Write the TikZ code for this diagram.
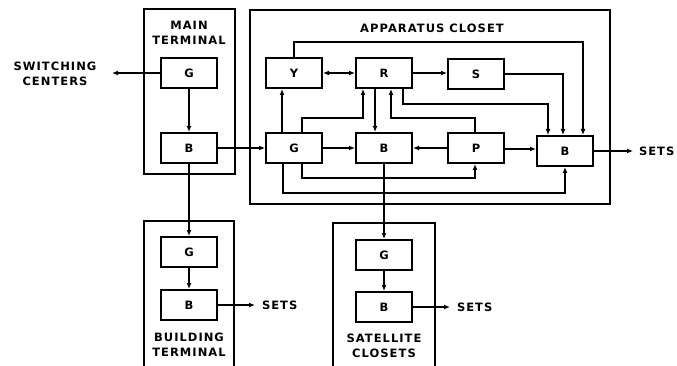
\documentclass[tikz,border=0pt]{standalone}
\usepackage{fontspec}
\usetikzlibrary{arrows.meta}
\newfontfamily\plotfont[LetterSpace=9]{DejaVu Sans}
\newcommand{\lblfont}{\plotfont\bfseries\fontsize{11.5}{15}\selectfont}
\begin{document}
\begin{tikzpicture}[x=1pt,y=-1pt,line width=2pt,
  blk/.style={draw,line width=2pt,minimum width=56pt,minimum height=30pt,inner sep=0pt,font=\lblfont},
  arr/.style={-{Latex[length=6pt,width=5pt]}},
  darr/.style={{Latex[length=6pt,width=5pt]}-{Latex[length=6pt,width=5pt]}},
  txt/.style={font=\lblfont,align=center,inner sep=0pt}]
\useasboundingbox (0,0) rectangle (677,366);
\fill[white] (0,0) rectangle (677,366);
% group outlines
\draw (144,9) rectangle (235,174);
\draw (250,10) rectangle (610,204);
\draw (144,372) -- (144,221) -- (234,221) -- (234,372);
\draw (333,372) -- (333,223) -- (435,223) -- (435,372);
% group labels
\node[txt] (mtl) at (189,32.5) {MAIN\\TERMINAL};
\node[txt] (acl) at (432,28) {APPARATUS CLOSET};
\node[txt] (btl) at (189,345) {BUILDING\\TERMINAL};
\node[txt] (scl) at (384,345.5) {SATELLITE\\CLOSETS};
\node[txt] (sw) at (55,74) {SWITCHING\\CENTERS};
% blocks
\node[blk] (mG) at (189,73) {G};
\node[blk] (mB) at (189,148) {B};
\node[blk] (Y) at (294,73) {Y};
\node[blk] (R) at (384,73) {R};
\node[blk] (S) at (476,74) {S};
\node[blk] (cG) at (294,148) {G};
\node[blk] (cB) at (384,148) {B};
\node[blk] (P) at (476,148) {P};
\node[blk] (Br) at (565,151) {B};
\node[blk] (bG) at (189,252) {G};
\node[blk] (bB) at (189,305) {B};
\node[blk] (sG) at (384,255) {G};
\node[blk] (sB) at (384,307) {B};
% free ends and SETS labels
\coordinate (swend) at (112,73);
\coordinate (cse) at (633,151);
\coordinate (bse) at (255,305);
\coordinate (sse) at (450,307);
\node[txt,anchor=west] (cst) at (638,151) {SETS};
\node[txt,anchor=west] (bst) at (261,305) {SETS};
\node[txt,anchor=west] (sst) at (456,307) {SETS};
% main terminal
\draw[arr] (mG.west) -- (swend);
\draw[arr] (mG) -- (mB);
\draw[arr] (mB.east) -- (cG.west);
\draw[arr] (mB.south) -- (bG.north);
% building terminal
\draw[arr] (bG) -- (bB);
\draw[arr] (bB.east) -- (bse);
% satellite closets
\draw[arr] (cB.south) -- (sG.north);
\draw[arr] (sG) -- (sB);
\draw[arr] (sB.east) -- (sse);
% apparatus closet
\draw[arr] ([xshift=-12pt]cG.north) -- ([xshift=-12pt]Y.south);
\draw[darr] (Y.east) -- (R.west);
\draw[arr] (R.east) -- (R.east -| S.west);
\draw[arr] ([xshift=8pt]cG.north) -- ++(0,-14) -| ([xshift=-21pt]R.south);
\draw[arr] ([xshift=-9pt]R.south) -- ([xshift=-9pt]cB.north);
\draw[arr] ([xshift=-1pt]P.north) -- ++(0,-14) -| ([xshift=7pt]R.south);
\draw[arr] ([xshift=19pt]R.south) -- ++(0,15) -| ([xshift=-17pt]Br.north);
\draw[arr] (S.east) -| ([xshift=-2pt]Br.north);
\draw[arr] (Y.north) -- ++(0,-15) -| ([xshift=18pt]Br.north);
\draw[arr] (cG.east) -- (cB.west);
\draw[arr] (P.west) -- (cB.east);
\draw[arr] ([yshift=-1pt]P.east) -- ([yshift=-1pt]P.east -| Br.west);
\draw[arr] ([xshift=8pt]cG.south) -- ++(0,14) -| ([xshift=-1pt]P.south);
\draw[arr] ([xshift=-11pt]cG.south) -- ++(0,29) -| (Br.south);
\draw[arr] (Br.east) -- (cse);
\end{tikzpicture}
\end{document}
